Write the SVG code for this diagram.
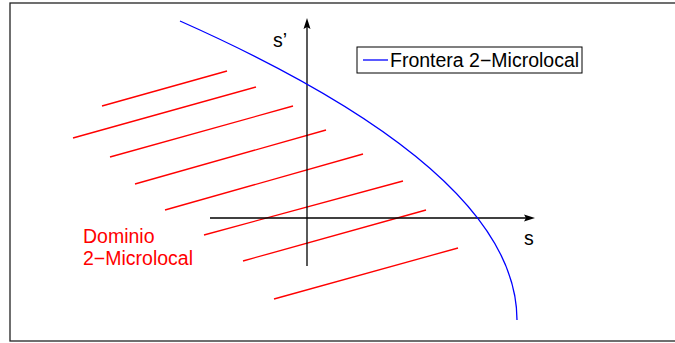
<svg xmlns="http://www.w3.org/2000/svg" width="675" height="343" viewBox="0 0 675 343">
<style>
.frame{fill:none;stroke:#222;stroke-width:1.3}
.red{stroke:#ff0000;stroke-width:1.3;fill:none}
.axis{stroke:#000;stroke-width:1.3;fill:none}
.blue{stroke:#0000ff;stroke-width:1.3;fill:none}
text{font-family:"Liberation Sans",Arial,sans-serif;font-size:19.5px}
</style>
<rect width="675" height="343" fill="#fff"/>
<rect class="frame" x="10" y="3" width="680" height="338"/>
<g id="domain">
<line class="red" x1="102" y1="106" x2="227" y2="71"/>
<line class="red" x1="73" y1="138" x2="256" y2="87"/>
<line class="red" x1="110" y1="157" x2="293" y2="106"/>
<line class="red" x1="135" y1="184" x2="326" y2="130"/>
<line class="red" x1="165" y1="210" x2="363" y2="154"/>
<line class="red" x1="204" y1="235" x2="403" y2="181"/>
<line class="red" x1="243" y1="261" x2="426" y2="210"/>
<line class="red" x1="274" y1="299" x2="458" y2="248"/>
<text x="83" y="243" fill="#ff0000">Dominio</text>
<text x="83" y="265" fill="#ff0000">2−Microlocal</text>
</g>
<g id="axes">
<line class="axis" x1="307" y1="266" x2="307" y2="24"/>
<path d="M307 18 L310.5 29 L307 27 L303.5 29 Z" fill="#000"/>
<line class="axis" x1="210" y1="218" x2="528" y2="218"/>
<path d="M535 218 L524 221.5 L526 218 L524 214.5 Z" fill="#000"/>
<text x="273" y="47" fill="#000">s’</text>
<text x="524" y="245" fill="#000">s</text>
</g>
<g id="boundary">
<path class="blue" d="M180 21 Q517 171 517 320"/>
</g>
<g id="legend">
<rect x="357" y="47" width="225" height="26" fill="#fff" stroke="#000" stroke-width="1"/>
<line class="blue" x1="363" y1="60" x2="388" y2="60"/>
<text x="390" y="67" fill="#000">Frontera 2−Microlocal</text>
</g>
</svg>
